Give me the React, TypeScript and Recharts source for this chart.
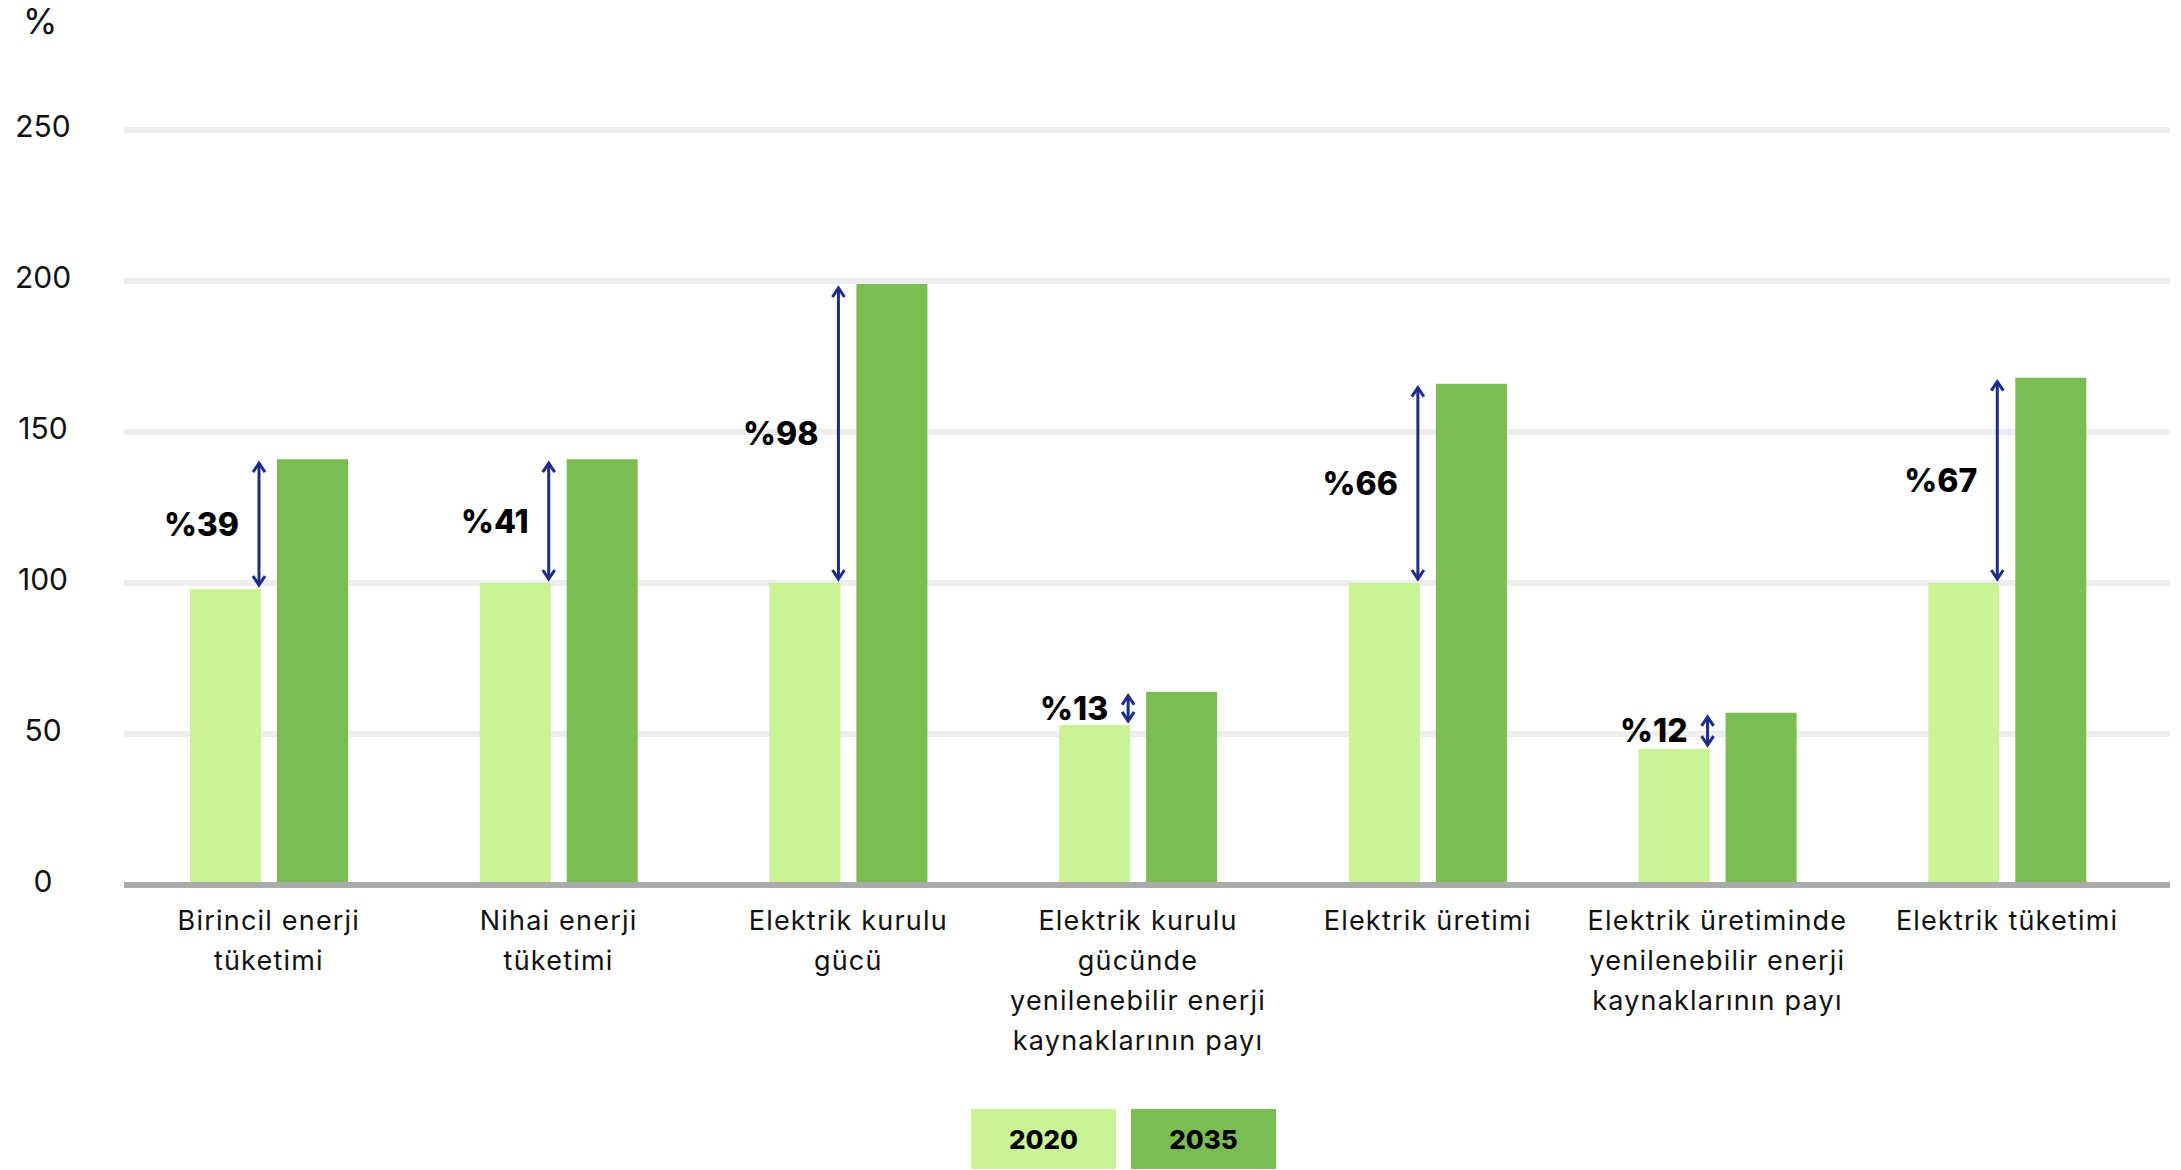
import { BarChart, Bar, XAxis, YAxis, CartesianGrid, Rectangle } from "recharts";

const categories = [
  "Birincil enerji\ntüketimi",
  "Nihai enerji\ntüketimi",
  "Elektrik kurulu\ngücü",
  "Elektrik kurulu\ngücünde\nyenilenebilir enerji\nkaynaklarının payı",
  "Elektrik üretimi",
  "Elektrik üretiminde\nyenilenebilir enerji\nkaynaklarının payı",
  "Elektrik tüketimi",
];
const values2020 = [98, 100, 100, 53, 100, 45, 100];
const values2035 = [141, 141, 199, 64, 166, 57, 168];
const changeLabels = ["%39", "%41", "%98", "%13", "%66", "%12", "%67"];
const yTicks = [0, 50, 100, 150, 200, 250];
const seriesNames = ["2020", "2035"];

const LIGHT = "#cbf396";
const DARK = "#7abd50";
const ARROW = "#1e2c8c";
const FONT = "Inter, 'Open Sans', sans-serif";

const data = categories.map((c, i) => ({
  name: c,
  v2020: values2020[i],
  v2035: values2035[i],
}));

function YTick(props: any) {
  return (
    <text
      x={43}
      y={props.y - 4}
      textAnchor="middle"
      dominantBaseline="central"
      fontSize={30}
      fontFamily={FONT}
      fill="#111"
    >
      {props.payload.value}
    </text>
  );
}

function XTick(props: any) {
  const lines = String(props.payload.value).split("\n");
  return (
    <text
      x={props.x}
      y={props.y + 28}
      textAnchor="middle"
      fontSize={27}
      letterSpacing={1.2}
      fontFamily={FONT}
      fill="#111"
    >
      {lines.map((l, i) => (
        <tspan key={i} x={props.x} dy={i === 0 ? 9 : 40}>
          {l}
        </tspan>
      ))}
    </text>
  );
}

// 2035 bar + arrow showing change from 2020
function DarkBar(props: any) {
  const { x, y, width, height, index } = props;
  const light = values2020[index];
  const dark = values2035[index];
  const ax = x - 18;
  const yTop = y + 4;
  const yBottom = y + height * (1 - light / dark) - 4;
  const mid = (yTop + yBottom) / 2;
  return (
    <g>
      <Rectangle x={x} y={y} width={width} height={height} fill={DARK} />
      <line x1={ax} x2={ax} y1={yTop} y2={yBottom} stroke={ARROW} strokeWidth={3} />
      <polyline
        points={`${ax - 6},${yTop + 9} ${ax},${yTop} ${ax + 6},${yTop + 9}`}
        fill="none"
        stroke={ARROW}
        strokeWidth={3}
      />
      <polyline
        points={`${ax - 6},${yBottom - 9} ${ax},${yBottom} ${ax + 6},${yBottom - 9}`}
        fill="none"
        stroke={ARROW}
        strokeWidth={3}
      />
      <text
        x={ax - 20}
        y={mid}
        textAnchor="end"
        dominantBaseline="central"
        fontSize={32}
        fontWeight={800}
        fontFamily={FONT}
        fill="#000"
      >
        {changeLabels[index]}
      </text>
    </g>
  );
}

export default function App() {
  return (
    <div
      style={{
        position: "absolute",
        top: 0,
        left: 0,
        width: 2181,
        height: 1170,
        background: "#fff",
        fontFamily: FONT,
      }}
    >
      <div
        style={{
          position: "absolute",
          left: 23,
          top: 0,
          fontSize: 35,
          color: "#111",
        }}
      >
        %
      </div>
      <BarChart
        width={2181}
        height={1170}
        data={data}
        margin={{ top: 130, right: 11, left: 0, bottom: 85 }}
        barSize={71}
        barGap={16}
      >
        <CartesianGrid vertical={false} stroke="#eeeeee" strokeWidth={6} />
        <XAxis
          dataKey="name"
          height={200}
          interval={0}
          tickLine={false}
          axisLine={{ stroke: "#aaaaaa", strokeWidth: 6 }}
          tick={<XTick />}
          padding={{ left: 0, right: 18 }}
        />
        <YAxis
          width={124}
          domain={[0, 250]}
          ticks={yTicks}
          axisLine={false}
          tickLine={false}
          tick={<YTick />}
        />
        <Bar dataKey="v2020" name={seriesNames[0]} fill={LIGHT} isAnimationActive={false} />
        <Bar
          dataKey="v2035"
          name={seriesNames[1]}
          fill={DARK}
          isAnimationActive={false}
          shape={<DarkBar />}
        />
      </BarChart>
      <div
        style={{
          position: "absolute",
          left: 971,
          top: 1109,
          display: "flex",
          gap: 15,
        }}
      >
        {seriesNames.map((s, i) => (
          <div
            key={s}
            style={{
              width: 145,
              height: 60,
              background: i === 0 ? LIGHT : DARK,
              display: "flex",
              alignItems: "center",
              justifyContent: "center",
              fontSize: 26,
              fontWeight: 800,
              color: "#000",
            }}
          >
            {s}
          </div>
        ))}
      </div>
    </div>
  );
}
